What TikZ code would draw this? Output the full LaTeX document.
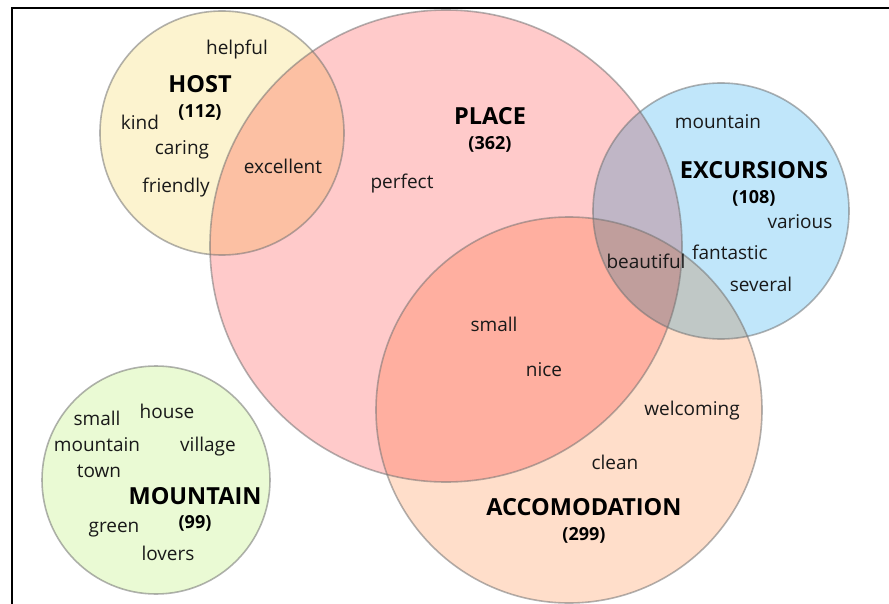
\documentclass[tikz,border=0pt]{standalone}
\usepackage{fontspec}
\setmainfont{Open Sans}
\definecolor{hostc}{RGB}{252,243,207}
\definecolor{placec}{RGB}{255,202,202}
\definecolor{excc}{RGB}{192,230,250}
\definecolor{accc}{RGB}{255,222,202}
\definecolor{mtnc}{RGB}{234,250,212}
\definecolor{edgec}{RGB}{115,115,115}
\tikzset{
  blob/.style={draw=none},
  rim/.style={draw=edgec, draw opacity=0.55, line width=1.6pt},
  word/.style={inner sep=0pt, font=\fontsize{19}{21}\selectfont, text=black!90},
  title/.style={inner sep=0pt, font=\fontsize{23.5}{25}\selectfont\bfseries},
  count/.style={inner sep=0pt, font=\fontsize{18}{20}\selectfont\bfseries},
  frame/.style={line width=1.2pt, black}
}
\begin{document}
\begin{tikzpicture}[x=1pt, y=-1pt]
\useasboundingbox (0,0) rectangle (889,604);
\begin{scope}[blend group=multiply]
  \path[blob, fill=hostc] (222,133) circle[radius=122];
  \path[blob, fill=placec] (446,246) circle[radius=236];
  \path[blob, fill=excc] (721,211) circle[radius=128];
  \path[blob, fill=accc] (569,410) circle[radius=193];
  \path[blob, fill=mtnc] (156,480) circle[radius=114];
\end{scope}
\path[rim] (222,133) circle[radius=122];
\path[rim] (446,246) circle[radius=236];
\path[rim] (721,211) circle[radius=128];
\path[rim] (569,410) circle[radius=193];
\path[rim] (156,480) circle[radius=114];
\coordinate (tl) at (12,8);
\coordinate (tr) at (889,8);
\coordinate (bl) at (12,604);
\draw[frame] (bl) -- (tl) -- (tr);
% HOST
\node[word] (w1) at (237,50) {helpful};
\node[title] (t1) at (200,84) {HOST};
\node[count] (c1) at (200,112) {(112)};
\node[word] (w2) at (140,122) {kind};
\node[word] (w3) at (182,150) {caring};
\node[word] (w4) at (176,188) {friendly};
\node[word] (w5) at (283,166) {excellent};
% PLACE
\node[title] (t2) at (490,116) {PLACE};
\node[count] (c2) at (490,144) {(362)};
\node[word] (w6) at (402,184) {perfect};
% EXCURSIONS
\node[word] (w7) at (718,122) {mountain};
\node[title] (t3) at (754,170) {EXCURSIONS};
\node[count] (c3) at (754,198) {(108)};
\node[word] (w8) at (800,222) {various};
\node[word] (w9) at (730,252) {fantastic};
\node[word] (w10) at (646,261) {beautiful};
\node[word] (w11) at (761,284) {several};
% ACCOMODATION
\node[word] (w12) at (494,324) {small};
\node[word] (w13) at (544,370) {nice};
\node[word] (w14) at (692,411) {welcoming};
\node[word] (w15) at (615,462) {clean};
\node[title] (t4) at (584,507) {ACCOMODATION};
\node[count] (c4) at (584,535) {(299)};
% MOUNTAIN
\node[word] (w16) at (97,418) {small};
\node[word] (w17) at (167,411) {house};
\node[word] (w18) at (97,445) {mountain};
\node[word] (w19) at (208,447) {village};
\node[word] (w20) at (99,471) {town};
\node[title] (t5) at (195,496) {MOUNTAIN};
\node[count] (c5) at (195,523) {(99)};
\node[word] (w21) at (114,530) {green};
\node[word] (w22) at (168,553) {lovers};
\end{tikzpicture}
\end{document}
